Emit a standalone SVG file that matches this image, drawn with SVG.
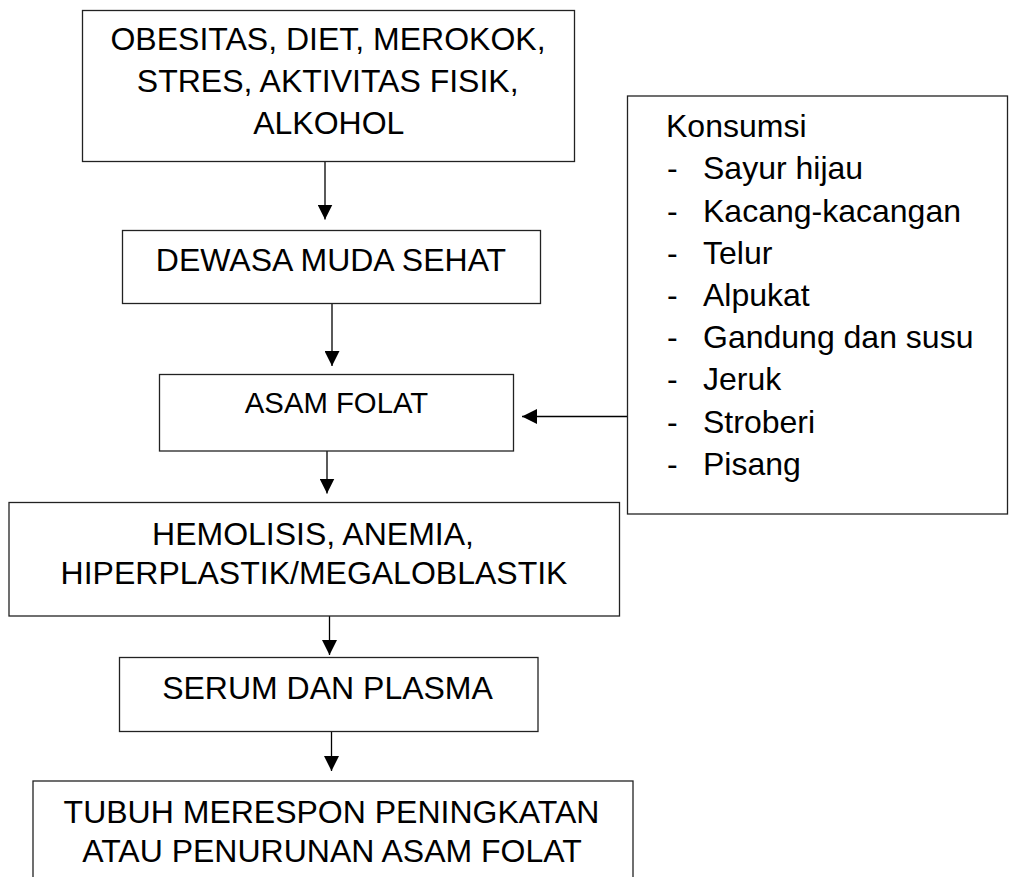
<svg xmlns="http://www.w3.org/2000/svg" width="1010" height="877" viewBox="0 0 1010 877">
<style>
.box{fill:#fff;stroke:#222;stroke-width:1.3}
.t{font-family:"Liberation Sans",Arial,sans-serif;fill:#000;text-anchor:middle;font-size:32px}
.k{font-family:"Liberation Sans",Arial,sans-serif;fill:#000;font-size:32px}
.c{stroke:#000;stroke-width:1.3;fill:none;marker-end:url(#ah)}
</style>
<defs>
<marker id="ah" markerUnits="userSpaceOnUse" markerWidth="15" markerHeight="15" refX="15" refY="7.5" orient="auto" viewBox="0 0 15 15">
<path d="M0,0 L15,7.5 L0,15 z" fill="#000"/>
</marker>
</defs>
<rect x="0" y="0" width="1010" height="877" fill="#fff"/>
<g id="connectors">
<line class="c" x1="325" y1="162" x2="325" y2="219.5"/>
<line class="c" x1="332" y1="303.5" x2="332" y2="366"/>
<line class="c" x1="327" y1="451" x2="327" y2="493.5"/>
<line class="c" x1="329.5" y1="616" x2="329.5" y2="655"/>
<line class="c" x1="331.5" y1="731.5" x2="331.5" y2="771"/>
<line class="c" x1="627.5" y1="416.5" x2="522" y2="416.5"/>
</g>
<g id="n1">
<rect class="box" x="82.5" y="10.5" width="492" height="151"/>
<text class="t" x="328" y="50">OBESITAS, DIET, MEROKOK,</text>
<text class="t" x="327.7" y="92">STRES, AKTIVITAS FISIK,</text>
<text class="t" x="328.8" y="134">ALKOHOL</text>
</g>
<g id="n2">
<rect class="box" x="122.5" y="230.5" width="418" height="73"/>
<text class="t" x="331" y="271">DEWASA MUDA SEHAT</text>
</g>
<g id="n3">
<rect class="box" x="159.5" y="374.5" width="354" height="76.5"/>
<text class="t" x="336.5" y="412.5" style="font-size:29.3px">ASAM FOLAT</text>
</g>
<g id="n4">
<rect class="box" x="627.5" y="96" width="380" height="418"/>
<text class="k" x="666" y="137">Konsumsi</text>
<text class="k" x="667" y="179.3">-</text><text class="k" x="703" y="179.3">Sayur hijau</text>
<text class="k" x="667" y="221.5">-</text><text class="k" x="703" y="221.5">Kacang-kacangan</text>
<text class="k" x="667" y="263.7">-</text><text class="k" x="703" y="263.7">Telur</text>
<text class="k" x="667" y="305.9">-</text><text class="k" x="703" y="305.9">Alpukat</text>
<text class="k" x="667" y="348.1">-</text><text class="k" x="703" y="348.1">Gandung dan susu</text>
<text class="k" x="667" y="390.3">-</text><text class="k" x="703" y="390.3">Jeruk</text>
<text class="k" x="667" y="432.5">-</text><text class="k" x="703" y="432.5">Stroberi</text>
<text class="k" x="667" y="474.7">-</text><text class="k" x="703" y="474.7">Pisang</text>
</g>
<g id="n5">
<rect class="box" x="9" y="502.5" width="610.5" height="113.5"/>
<text class="t" x="313" y="545">HEMOLISIS, ANEMIA,</text>
<text class="t" x="314" y="583.5">HIPERPLASTIK/MEGALOBLASTIK</text>
</g>
<g id="n6">
<rect class="box" x="119.5" y="657.5" width="418.5" height="74"/>
<text class="t" x="327.5" y="699">SERUM DAN PLASMA</text>
</g>
<g id="n7">
<rect class="box" x="33" y="781" width="600" height="110"/>
<text class="t" x="331.5" y="822.5">TUBUH MERESPON PENINGKATAN</text>
<text class="t" x="332" y="861.5">ATAU PENURUNAN ASAM FOLAT</text>
</g>
</svg>
